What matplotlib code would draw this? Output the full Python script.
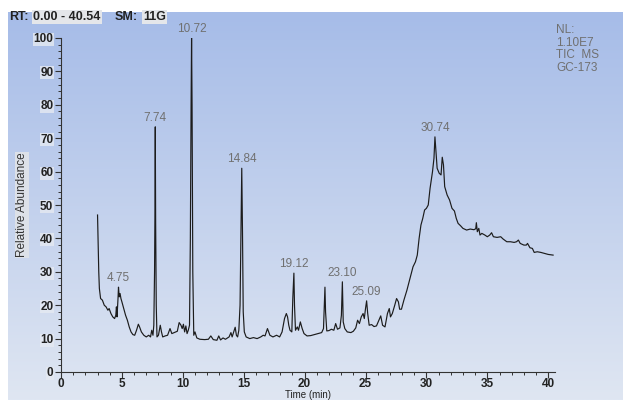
import numpy as np
import matplotlib
matplotlib.use("Agg")
import matplotlib.pyplot as plt

# ---- data ----
time_min = [3.00, 3.05, 3.10, 3.15, 3.25, 3.40, 3.55, 3.70, 3.85, 3.95, 4.10, 4.25, 4.40, 4.50, 4.55, 4.60,
            4.68, 4.72, 4.78, 4.85, 4.92, 5.00, 5.15, 5.30, 5.45, 5.60, 5.75, 5.90, 6.05, 6.20, 6.35, 6.45,
            6.60, 6.80, 7.00, 7.20, 7.35, 7.45, 7.55, 7.62, 7.68, 7.71, 7.74, 7.77, 7.82, 7.88, 8.00, 8.15,
            8.25, 8.35, 8.55, 8.75, 8.95, 9.10, 9.30, 9.55, 9.70, 9.85, 9.95, 10.05, 10.15, 10.25, 10.35,
            10.45, 10.55, 10.62, 10.68, 10.72, 10.76, 10.82, 10.90, 11.00, 11.15, 11.40, 11.80, 12.10, 12.30,
            12.50, 12.80, 12.95, 13.10, 13.30, 13.50, 13.80, 13.95, 14.05, 14.20, 14.30, 14.40, 14.50, 14.60,
            14.70, 14.78, 14.84, 14.90, 14.96, 15.05, 15.20, 15.50, 15.80, 16.10, 16.40, 16.60, 16.75, 16.95,
            17.15, 17.40, 17.70, 17.95, 18.15, 18.35, 18.50, 18.60, 18.70, 18.80, 18.95, 19.03, 19.08, 19.12,
            19.17, 19.25, 19.40, 19.50, 19.65, 19.80, 19.95, 20.20, 20.50, 20.80, 21.10, 21.40, 21.55, 21.62,
            21.67, 21.72, 21.82, 22.00, 22.20, 22.40, 22.55, 22.70, 22.90, 23.02, 23.10, 23.17, 23.30, 23.50,
            23.80, 24.00, 24.20, 24.35, 24.50, 24.65, 24.80, 24.90, 25.00, 25.09, 25.18, 25.30, 25.50, 25.70,
            25.90, 26.10, 26.25, 26.40, 26.60, 26.80, 26.95, 27.05, 27.20, 27.40, 27.55, 27.70, 27.80, 27.95,
            28.15, 28.40, 28.65, 28.90, 29.10, 29.25, 29.40, 29.55, 29.70, 29.85, 30.00, 30.15, 30.30, 30.50,
            30.62, 30.70, 30.78, 30.88, 31.05, 31.20, 31.30, 31.40, 31.50, 31.70, 31.90, 32.10, 32.30, 32.45,
            32.60, 32.80, 33.00, 33.30, 33.60, 33.90, 34.05, 34.10, 34.18, 34.30, 34.40, 34.55, 34.80, 35.00,
            35.20, 35.35, 35.50, 35.80, 36.10, 36.30, 36.60, 36.90, 37.20, 37.40, 37.55, 37.70, 38.00, 38.20,
            38.30, 38.50, 38.70, 38.85, 39.10, 39.40, 39.70, 40.00, 40.40]
rel_abundance = [47, 38, 30, 25, 22, 21.5, 20, 19.5, 18.5, 19, 17.5, 16.5, 16, 17, 19.5, 16.5,
                 22, 25.4, 22.5, 23.5, 22, 21, 19, 17, 15.5, 13.5, 12, 11.2, 11, 12.5, 14.3, 13.5,
                 12, 11, 10.5, 11, 10.5, 12.5, 11, 14, 30, 46, 73.4, 45, 20, 10.5, 11, 14,
                 12, 10.5, 10.8, 11, 13, 11.5, 11.8, 12.2, 14.8, 14, 13, 14.3, 12, 13.8, 11.5,
                 12.5, 14, 40, 80, 100, 80, 30, 11, 12, 10.2, 9.8, 9.7, 9.8, 10.8,
                 9.7, 9.5, 10.8, 9.6, 10.2, 9.8, 10.5, 11.8, 10.5, 12.2, 13.4, 11, 10.5, 12.5,
                 20, 42, 61, 42, 18, 12, 10.5, 10, 10.3, 10, 10.5, 11, 10.8, 13,
                 11, 10.5, 11, 10.5, 12, 16, 17.5, 16.5, 14, 12.5, 12, 22, 26, 29.6,
                 20, 12.5, 13.5, 12.5, 15, 13, 11.5, 10.8, 10.9, 11.2, 11.5, 11.8, 13, 20,
                 25.4, 18, 12.3, 12.4, 12.8, 12.5, 14.5, 12.8, 13.2, 17, 27, 15, 13, 12,
                 11.8, 12.2, 13.2, 15.5, 14.5, 16.5, 17.5, 16, 19, 21.3, 17.5, 14, 14.2, 13.6,
                 13.8, 15.5, 16.8, 14, 13.5, 17.5, 19, 16.5, 17.5, 20, 22, 21, 18.8, 18.8,
                 21.5, 24.5, 28, 31.5, 33, 35, 40, 44, 46, 48.5, 49, 50, 55, 60,
                 64, 70.4, 66, 61, 59.5, 59, 64.3, 62, 55.5, 53, 51.5, 49, 48.2, 46,
                 44.5, 43.8, 43, 42.5, 42.8, 42.6, 42.9, 44.7, 42, 43, 41, 41.5, 41, 40.5,
                 41, 41.7, 40.5, 40.3, 40.5, 39.8, 39, 39, 38.8, 39, 39.5, 38.5, 38, 38,
                 38.5, 37.2, 37, 35.8, 36, 35.8, 35.5, 35.2, 35]

peak_labels = ["4.75", "7.74", "10.72", "14.84", "19.12", "23.10", "25.09", "30.74"]
peak_times = [4.72, 7.74, 10.72, 14.84, 19.12, 23.10, 25.09, 30.70]
peak_heights = [25.4, 73.4, 100, 61, 29.6, 27, 21.3, 70.4]

x_ticks = [0, 5, 10, 15, 20, 25, 30, 35, 40]
y_ticks = [0, 10, 20, 30, 40, 50, 60, 70, 80, 90, 100]
info_lines = ["NL:", "1.10E7", "TIC  MS", "GC-173"]

W, H = 623, 400
fig = plt.figure(figsize=(W / 100, H / 100), dpi=100)
fig.patch.set_facecolor("white")

# gradient background
bg = fig.add_axes([8 / W, 0, 1 - 8 / W, 388 / H], zorder=0)
grad = np.linspace(0, 1, 256).reshape(-1, 1)
top = np.array([166, 188, 232]) / 255
bot = np.array([223, 230, 242]) / 255
img = top[None, None, :] * (1 - grad[:, :, None]) + bot[None, None, :] * grad[:, :, None]
bg.imshow(img, aspect="auto", extent=[0, 1, 0, 1])
bg.axis("off")

left = 61 / W
right = 554.8 / W
bottom = 1 - 372 / H
topy = 1 - 38 / H
ax = fig.add_axes([left, bottom, right - left, topy - bottom], zorder=1)
ax.patch.set_alpha(0)

ax.plot(time_min, rel_abundance, color="#1c1c1c", lw=0.85)

ax.set_xlim(0, 40.54)
ax.set_ylim(0, 100)
for s in ["top", "right"]:
    ax.spines[s].set_visible(False)
for s in ["left", "bottom"]:
    ax.spines[s].set_color("#333333")
    ax.spines[s].set_linewidth(0.8)

ax.set_xticks(x_ticks)
ax.set_yticks(y_ticks)
ax.set_xticks(np.arange(0, 41, 1), minor=True)
ax.set_yticks(np.arange(0, 101, 2), minor=True)
ax.tick_params(axis="both", which="major", direction="out", length=4, width=0.8, color="#333333",
               labelsize=8.5, labelcolor="#222222", pad=1.5)
ax.tick_params(axis="x", which="major", pad=0.5)
ax.tick_params(axis="both", which="minor", direction="out", length=2.5, width=0.7, color="#333333")
for lab in ax.get_xticklabels() + ax.get_yticklabels():
    lab.set_fontfamily("Liberation Sans")
    lab.set_fontweight("bold")
for lab in ax.get_yticklabels():
    lab.set_bbox(dict(facecolor="#e6eaf2", edgecolor="none", pad=0.3, alpha=0.8))

# x-axis title placed in figure coords so it stays inside the canvas
fig.text((left + right) / 2, 1 - 395 / H, "Time (min)", fontsize=7, family="Liberation Sans",
         color="#222222", ha="center", va="center")
ax.set_ylabel("Relative Abundance", fontsize=8.5, family="Liberation Sans", color="#333333", labelpad=4,
              bbox=dict(facecolor="#dde1e8", edgecolor="none", pad=0.5))

for lab, t, h in zip(peak_labels, peak_times, peak_heights):
    ax.annotate(lab, (t, h), xytext=(0, 2), textcoords="offset points", ha="center", va="bottom",
                fontsize=8.5, color="#707070", family="Liberation Sans", annotation_clip=False)

# header
hdr_y = 1 - 17 / H
def box_text(x, s, boxed):
    kw = dict(fontsize=9, family="Liberation Sans", fontweight="bold", color="#222222",
              va="center", ha="left")
    if boxed:
        kw["bbox"] = dict(facecolor="#e4e6ea", edgecolor="none", pad=1)
    fig.text(x / W, hdr_y, s, **kw)
box_text(9, "RT:", False)
box_text(33, "0.00 - 40.54", True)
box_text(115, "SM:", False)
box_text(143, "11G", True)

# info text
for i, line in enumerate(info_lines):
    fig.text(556 / W, 1 - (30 + i * 12.7) / H, line, fontsize=8.5, color="#707070",
             family="Liberation Sans", ha="left", va="center")

fig.savefig("out.png", dpi=100)
